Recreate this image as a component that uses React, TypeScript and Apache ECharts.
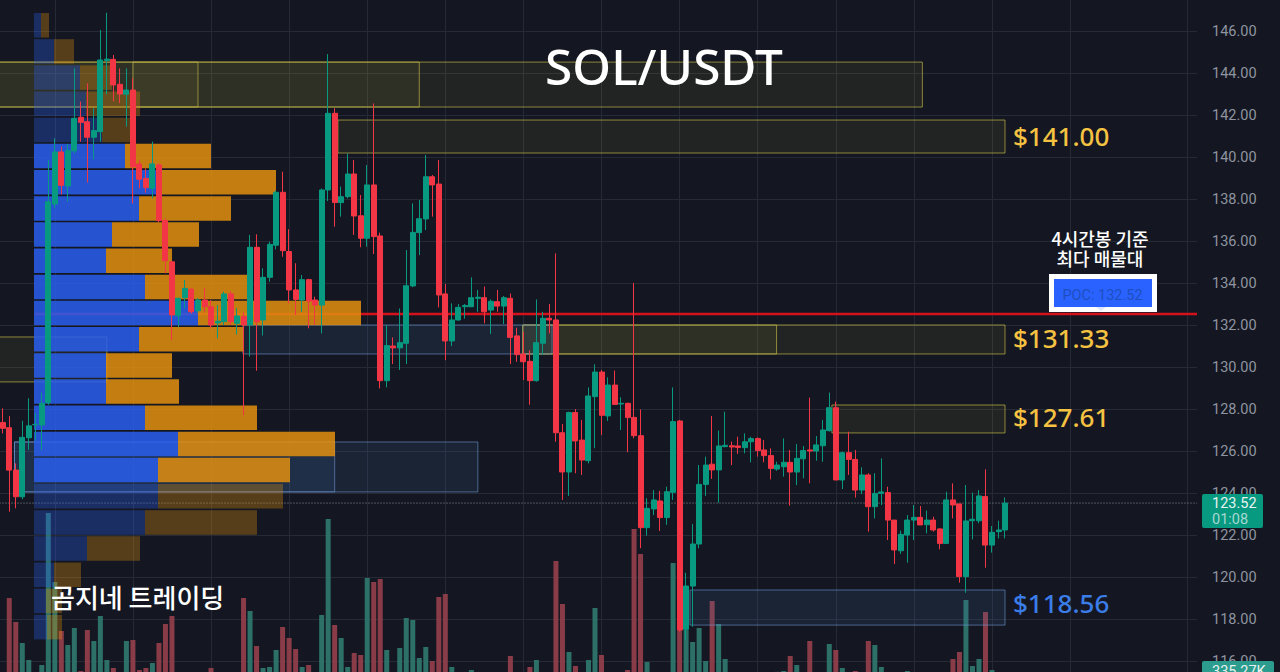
import { useEffect, useRef } from "react";
import * as echarts from "echarts";

const opens = [
  127.36, 127.11, 125.09, 123.82, 126.63, 127.25, 127.24, 128.3, 137.76, 140.24,
  138.62, 140.29, 141.89, 141.68, 140.94, 141.21, 144.6, 144.65, 143.46, 142.99,
  143.19, 139.67, 138.98, 138.51, 139.62, 136.97, 135.01, 132.44, 133.3, 133.7,
  132.68, 133.19, 132.87, 132.1, 132.16, 133.48, 132.08, 132.4, 132.0, 135.7,
  132.24, 134.27, 135.8, 138.32, 135.5, 133.67, 133.19, 134.16, 133.19, 132.95,
  138.43, 142.08, 137.83, 138.11, 139.19, 137.2, 136.13, 138.67, 136.24, 129.35,
  131.0, 130.91, 131.13, 133.86, 136.4, 137.05, 139.06, 138.71, 133.48, 131.24,
  132.24, 132.87, 132.87, 133.27, 133.3, 132.71, 133.11, 132.9, 133.27, 131.48,
  130.62, 130.27, 129.35, 131.13, 132.32, 132.24, 126.87, 125.0, 127.83, 126.52,
  125.54, 128.59, 129.76, 127.67, 129.14, 128.24, 128.27, 127.6, 126.73, 122.35,
  123.24, 123.62, 122.83, 124.03, 127.43, 117.51, 119.57, 121.57, 124.41, 125.37,
  125.1, 126.21, 126.25, 126.24, 126.16, 126.44, 126.59, 126.05, 125.78, 125.14,
  125.25, 125.46, 125.0, 125.63, 126.05, 126.0, 126.25, 126.97, 128.06, 124.62,
  125.92, 125.6, 124.14, 124.86, 123.35, 123.98, 124.02, 122.71, 121.25, 122.0,
  122.71, 122.84, 122.49, 122.71, 122.29, 121.6, 123.67, 123.48, 120.02, 122.68,
  122.68, 123.83, 121.52, 122.16, 122.24,
];

const closes = [
  127.08, 125.09, 123.82, 126.65, 127.2, 127.27, 128.27, 137.87, 140.24, 138.65,
  140.3, 141.84, 141.65, 140.94, 141.26, 144.62, 144.66, 143.43, 143.0, 143.19,
  139.54, 138.94, 138.54, 139.67, 136.97, 135.06, 132.48, 133.27, 133.74, 132.63,
  133.19, 132.87, 132.0, 132.18, 133.48, 132.16, 132.43, 132.0, 135.7, 132.16,
  134.27, 135.84, 138.32, 135.54, 133.67, 133.22, 134.16, 133.14, 132.95, 138.43,
  142.08, 137.83, 138.11, 139.19, 137.19, 136.13, 138.67, 136.21, 129.35, 131.02,
  130.91, 131.16, 133.87, 136.41, 137.06, 139.06, 138.67, 133.43, 131.24, 132.24,
  132.84, 132.93, 133.3, 133.32, 132.63, 133.13, 132.9, 133.3, 131.41, 130.59,
  130.25, 129.35, 131.16, 132.32, 132.24, 126.87, 125.0, 127.83, 126.48, 125.57,
  128.62, 129.76, 127.7, 129.14, 128.22, 128.27, 127.59, 126.73, 122.35, 123.27,
  123.67, 122.83, 124.06, 127.4, 117.48, 119.57, 121.57, 124.41, 125.33, 125.1,
  126.24, 126.27, 126.19, 126.17, 126.44, 126.59, 126.02, 125.78, 125.17, 125.33,
  125.46, 125.0, 125.65, 126.02, 126.0, 126.29, 127.0, 128.06, 124.62, 125.92,
  125.6, 124.14, 124.86, 123.35, 123.98, 124.05, 122.71, 121.29, 122.03, 122.71,
  122.84, 122.48, 122.71, 122.24, 121.6, 123.67, 123.43, 120.02, 122.67, 122.75,
  123.86, 121.52, 122.13, 122.24, 123.52,
];

const lows = [
  126.84, 123.11, 123.27, 123.7, 126.05, 126.5, 126.05, 128.2, 137.55, 138.22,
  137.87, 140.17, 140.73, 138.78, 139.89, 140.73, 142.98, 142.64, 142.56, 141.44,
  137.79, 138.5, 138.3, 138.03, 136.9, 134.46, 131.28, 131.9, 132.79, 132.55,
  132.55, 132.6, 131.84, 131.36, 132.0, 132.0, 131.55, 127.71, 130.5, 129.82,
  131.5, 134.06, 135.6, 135.25, 133.03, 132.48, 132.63, 131.84, 132.0, 131.6,
  137.9, 136.68, 137.16, 138.03, 136.29, 135.7, 135.73, 135.38, 128.98, 129.03,
  130.14, 129.86, 130.14, 133.8, 135.33, 136.52, 137.16, 132.84, 130.33, 131.0,
  132.2, 132.3, 132.85, 132.63, 132.08, 131.57, 132.63, 132.05, 130.14, 130.25,
  129.38, 128.2, 129.3, 130.57, 131.6, 126.44, 123.67, 123.86, 124.94, 124.86,
  125.41, 126.13, 126.76, 127.43, 128.19, 127.0, 125.94, 126.6, 121.37, 121.97,
  122.95, 122.19, 122.48, 123.67, 117.4, 117.0, 117.63, 121.37, 123.86, 124.67,
  123.54, 126.17, 125.33, 125.86, 125.89, 125.46, 125.73, 125.46, 124.65, 125.06,
  124.78, 123.4, 124.38, 124.7, 124.46, 125.54, 125.49, 126.92, 124.62, 124.19,
  124.86, 123.78, 123.95, 122.16, 122.79, 123.43, 121.76, 120.62, 121.1, 120.68,
  121.76, 122.48, 122.08, 122.16, 121.32, 121.57, 122.79, 119.73, 119.25, 121.79,
  122.56, 120.44, 121.16, 121.84, 121.84,
];

const highs = [
  128.03, 127.66, 125.41, 127.44, 128.51, 127.8, 128.78, 139.86, 140.89, 140.5,
  140.62, 144.22, 142.64, 143.51, 142.32, 146.05, 146.87, 144.86, 144.22, 144.22,
  143.75, 139.85, 139.46, 140.73, 139.7, 137.08, 135.05, 133.3, 134.14, 133.75,
  133.27, 133.75, 133.19, 132.95, 133.59, 133.6, 132.8, 132.6, 136.29, 136.32,
  134.7, 135.97, 138.4, 139.3, 136.56, 134.94, 134.38, 134.2, 133.35, 138.5,
  144.9, 142.32, 138.59, 140.17, 139.86, 138.19, 139.62, 142.55, 136.4, 132.0,
  131.41, 132.79, 135.57, 137.79, 137.95, 140.1, 139.14, 139.86, 133.95, 133.03,
  133.0, 133.0, 134.27, 133.67, 133.83, 133.22, 133.67, 133.38, 133.5, 131.87,
  131.68, 130.8, 133.22, 132.63, 133.0, 135.41, 127.29, 127.87, 128.0, 127.48,
  129.03, 130.13, 129.86, 129.51, 129.83, 128.56, 128.3, 134.0, 127.98, 123.75,
  124.14, 124.1, 124.3, 129.03, 127.48, 120.2, 122.52, 125.33, 125.73, 127.67,
  126.97, 127.87, 126.45, 126.68, 126.84, 126.68, 126.65, 126.52, 126.13, 125.49,
  126.6, 126.05, 126.33, 126.24, 128.54, 126.71, 127.48, 128.78, 128.35, 125.97,
  126.92, 126.05, 125.22, 124.94, 124.94, 125.65, 124.3, 122.71, 122.21, 122.95,
  123.43, 123.38, 123.16, 122.87, 122.32, 124.06, 124.46, 123.48, 124.38, 124.02,
  124.14, 125.13, 122.43, 122.68, 123.79,
];

// volume in thousands
const volumes = [
  280, 2408, 1736, 1148, 672, 280, 532, 4788, 2856, 1484,
  1092, 1568, 364, 1512, 1204, 1904, 672, 448, 300, 1204,
  1232, 392, 448, 588, 1148, 1680, 1904, 250, 260, 240,
  230, 280, 448, 200, 240, 300, 270, 2408, 2044, 1064,
  448, 476, 952, 1596, 1288, 980, 476, 532, 310, 1932,
  4620, 1652, 1288, 476, 868, 812, 2968, 2856, 2940, 952,
  300, 1008, 1848, 1792, 728, 1036, 644, 2436, 2520, 476,
  240, 220, 392, 230, 210, 200, 220, 250, 784, 260,
  290, 476, 672, 280, 300, 3444, 2240, 896, 504, 300,
  672, 2128, 812, 310, 240, 280, 392, 4340, 3640, 616,
  300, 250, 320, 3388, 1512, 1512, 1176, 1568, 644, 2324,
  1680, 700, 280, 220, 180, 200, 240, 230, 290, 340,
  364, 784, 532, 320, 1204, 280, 300, 1120, 952, 448,
  310, 364, 300, 1204, 1092, 476, 290, 260, 240, 364,
  220, 230, 200, 250, 280, 320, 700, 896, 2352, 504,
  700, 2016, 392, 300, 335.27,
];

const BAR_COUNT = 184;
const categories = Array.from({ length: BAR_COUNT }, (_, i) => String(i));
const gridLineBars = [8, 20, 32, 44, 56, 68, 80, 92, 104, 116, 128, 140, 152, 164, 182];

// volume profile rows, top to bottom
const profileRows = [
  "r0", "r1", "r2", "r3", "r4", "r5", "r6", "r7", "r8", "r9", "r10", "r11",
  "r12", "r13", "r14", "r15", "r16", "r17", "r18", "r19", "r20", "r21", "r22", "r23",
];
const profileBuy = [7, 20, 46, 52, 68, 91, 127, 105, 78, 72, 111, 164, 105, 72, 72, 111, 144, 124, 124, 111, 53, 20, 12, 13];
const profileSell = [8, 20, 32, 54, 28, 86, 115, 92, 87, 66, 103, 163, 104, 66, 73, 112, 157, 132, 125, 112, 53, 27, 16, 15];
const valueAreaFirst = 5;
const valueAreaLast = 17;

// zones: start bar, end bar, top price, bottom price
const supplyZones = [
  [-1, 141.3, 144.52, 142.38],
  [-1, 30, 144.52, 142.38],
  [20, 64, 144.52, 142.38],
  [51.5, 154, 141.76, 140.19],
  [-1, 16, 131.43, 129.29],
  [79.9, 154, 132.0, 130.62],
  [79.9, 118.9, 132.0, 130.62],
  [127.4, 154, 128.19, 126.86],
];
const demandZones = [
  [105.6, 154, 119.38, 117.71],
  [36.9, 84.4, 132.0, 130.62],
  [1.8, 73, 126.43, 124.05],
  [1.8, 51, 126.43, 124.05],
];

const pocPrice = 132.52;
const lastPrice = 123.52;

const BG = "#141721";
const UP = "#089981";
const DOWN = "#f23645";
const GRID = "#262a36";
const KR = '"Noto Sans CJK KR", sans-serif';
const NUM = '"Noto Sans", sans-serif';

function zoneSeries(zones: number[][], fill: string, stroke: string) {
  return {
    type: "custom",
    xAxisIndex: 1,
    yAxisIndex: 0,
    z: 2,
    silent: true,
    encode: { x: [0, 1], y: [2, 3] },
    data: zones,
    renderItem: (_: any, api: any) => {
      const a = api.coord([api.value(0), api.value(2)]);
      const b = api.coord([api.value(1), api.value(3)]);
      return {
        type: "rect",
        shape: { x: a[0], y: a[1], width: b[0] - a[0], height: b[1] - a[1] },
        style: { fill, stroke, lineWidth: 1 },
      };
    },
  };
}

function buildOption(): any {
  const candles = opens.map((o, i) => [o, closes[i], lows[i], highs[i]]);
  const rowOpacity = (i: number) => (i >= valueAreaFirst && i <= valueAreaLast ? 0.86 : 0.33);

  return {
    animation: false,
    backgroundColor: BG,
    grid: [
      { left: -0.5, top: -11, width: 1197.5, height: 714, outerBoundsMode: "none" },
      { left: -0.5, top: 0, width: 1197.5, height: 684, outerBoundsMode: "none" },
      { left: 34, top: 12.2, width: 1000, height: 628, outerBoundsMode: "none" },
    ],
    xAxis: [
      {
        type: "category",
        gridIndex: 0,
        data: categories,
        axisLine: { show: false },
        axisTick: { show: false },
        axisLabel: { show: false },
        splitLine: {
          show: true,
          alignWithLabel: true,
          interval: (i: number) => gridLineBars.includes(i),
          lineStyle: { color: GRID, width: 1 },
        },
      },
      { type: "value", gridIndex: 0, min: -0.5, max: 183.5, show: false },
      { type: "category", gridIndex: 1, data: categories, show: false },
      { type: "value", gridIndex: 2, min: 0, max: 1000, show: false },
    ],
    yAxis: [
      {
        type: "value",
        gridIndex: 0,
        position: "right",
        min: 114,
        max: 148,
        interval: 2,
        axisLine: { show: false },
        axisTick: { show: false },
        axisLabel: {
          margin: 15,
          color: "#8f94a0",
          fontFamily: "Roboto",
          fontSize: 14.5,
          showMinLabel: false,
          showMaxLabel: false,
          formatter: (v: number) => v.toFixed(2),
        },
        splitLine: { lineStyle: { color: GRID, width: 1 } },
      },
      { type: "value", gridIndex: 1, min: 0, max: 19152, show: false },
      { type: "category", gridIndex: 2, inverse: true, data: profileRows, show: false },
    ],
    series: [
      {
        type: "bar",
        xAxisIndex: 2,
        yAxisIndex: 1,
        z: 1,
        barWidth: 5,
        silent: true,
        data: volumes.map((v, i) => ({
          value: v,
          itemStyle: { color: closes[i] >= opens[i] ? "#2f7a70" : "#96404b", opacity: 0.9 },
        })),
      },
      zoneSeries(supplyZones, "rgba(170,160,60,0.1)", "rgba(190,180,70,0.7)"),
      zoneSeries(demandZones, "rgba(70,125,190,0.13)", "rgba(110,150,210,0.6)"),
      {
        type: "line",
        xAxisIndex: 1,
        yAxisIndex: 0,
        z: 2,
        symbol: "none",
        silent: true,
        lineStyle: { color: "#d4121c", width: 2.5 },
        data: [[4.9, pocPrice], [183.5, pocPrice]],
      },
      {
        type: "line",
        xAxisIndex: 1,
        yAxisIndex: 0,
        z: 2,
        symbol: "none",
        silent: true,
        lineStyle: { color: "#8a9099", width: 1, type: [1, 2] },
        data: [[-0.5, lastPrice], [183.5, lastPrice]],
      },
      {
        type: "bar",
        xAxisIndex: 3,
        yAxisIndex: 2,
        stack: "profile",
        z: 3,
        barWidth: 24.5,
        silent: true,
        data: profileBuy.map((v, i) => ({
          value: v,
          itemStyle: { color: "#2a5eee", opacity: rowOpacity(i) },
        })),
      },
      {
        type: "bar",
        xAxisIndex: 3,
        yAxisIndex: 2,
        stack: "profile",
        z: 3,
        barWidth: 24.5,
        silent: true,
        data: profileSell.map((v, i) => ({
          value: v,
          itemStyle: { color: "#e18e0f", opacity: rowOpacity(i) },
        })),
      },
      {
        type: "candlestick",
        xAxisIndex: 0,
        yAxisIndex: 0,
        z: 5,
        barWidth: 5.5,
        silent: true,
        itemStyle: {
          color: UP,
          color0: DOWN,
          borderColor: UP,
          borderColor0: DOWN,
          borderColorDoji: UP,
          borderWidth: 1,
        },
        data: candles,
      },
    ],
    graphic: [
      {
        type: "text",
        z: 100,
        style: { x: 664, y: 65.5, text: "SOL/USDT", fill: "#ffffff", font: `500 49.5px ${NUM}`, textAlign: "center", textVerticalAlign: "middle" },
      },
      {
        type: "text",
        z: 100,
        style: { x: 1013, y: 136, text: "$141.00", fill: "#f5c242", font: `500 26px ${NUM}`, textVerticalAlign: "middle" },
      },
      {
        type: "text",
        z: 100,
        style: { x: 1013, y: 338, text: "$131.33", fill: "#f5c242", font: `500 26px ${NUM}`, textVerticalAlign: "middle" },
      },
      {
        type: "text",
        z: 100,
        style: { x: 1013, y: 417, text: "$127.61", fill: "#f5c242", font: `500 26px ${NUM}`, textVerticalAlign: "middle" },
      },
      {
        type: "text",
        z: 100,
        style: { x: 1013, y: 603, text: "$118.56", fill: "#3b7de8", font: `500 26px ${NUM}`, textVerticalAlign: "middle" },
      },
      {
        type: "text",
        z: 100,
        style: { x: 1100, y: 238, text: "4시간봉 기준", fill: "#ffffff", font: `500 18px ${KR}`, textAlign: "center", textVerticalAlign: "middle" },
      },
      {
        type: "text",
        z: 100,
        style: { x: 1100, y: 258, text: "최다 매물대", fill: "#ffffff", font: `500 18px ${KR}`, textAlign: "center", textVerticalAlign: "middle" },
      },
      {
        type: "text",
        z: 100,
        style: { x: 51, y: 596, text: "곰지네 트레이딩", fill: "#ffffff", font: `500 26px ${KR}`, textVerticalAlign: "middle" },
      },
      { type: "rect", z: 100, shape: { x: 1049, y: 274, width: 108, height: 38 }, style: { fill: "#ffffff" } },
      { type: "rect", z: 101, shape: { x: 1054, y: 279, width: 98, height: 28 }, style: { fill: "#2962ff" } },
      { type: "polygon", z: 101, shape: { points: [[1096, 307], [1106, 307], [1101, 311]] }, style: { fill: "#dfe6ff" } },
      {
        type: "text",
        z: 102,
        style: { x: 1102.5, y: 295, text: "POC: 132.52", fill: "#1f4fbf", font: "14.5px Roboto", textAlign: "center", textVerticalAlign: "middle" },
      },
      { type: "rect", z: 100, shape: { x: 1202, y: 494, width: 61, height: 34, r: 2 }, style: { fill: "#089981" } },
      {
        type: "text",
        z: 101,
        style: { x: 1212, y: 503, text: "123.52", fill: "#e8f3f1", font: "14.5px Roboto", textVerticalAlign: "middle" },
      },
      {
        type: "text",
        z: 101,
        style: { x: 1212, y: 519, text: "01:08", fill: "#a5d8cf", font: "14.5px Roboto", textVerticalAlign: "middle" },
      },
      { type: "rect", z: 100, shape: { x: 1202, y: 661, width: 72, height: 14, r: 2 }, style: { fill: "#2b9c8d" } },
      {
        type: "text",
        z: 101,
        style: { x: 1212, y: 671, text: "335.27K", fill: "#e8f3f1", font: "14.5px Roboto", textVerticalAlign: "middle" },
      },
    ],
  };
}

export default function App() {
  const chartRef = useRef<HTMLDivElement>(null);

  useEffect(() => {
    if (!chartRef.current) return;
    const chart = echarts.init(chartRef.current, undefined, { renderer: "svg" });
    chart.setOption(buildOption());
    return () => chart.dispose();
  }, []);

  return <div ref={chartRef} style={{ position: "fixed", left: 0, top: 0, width: 1280, height: 672 }} />;
}
